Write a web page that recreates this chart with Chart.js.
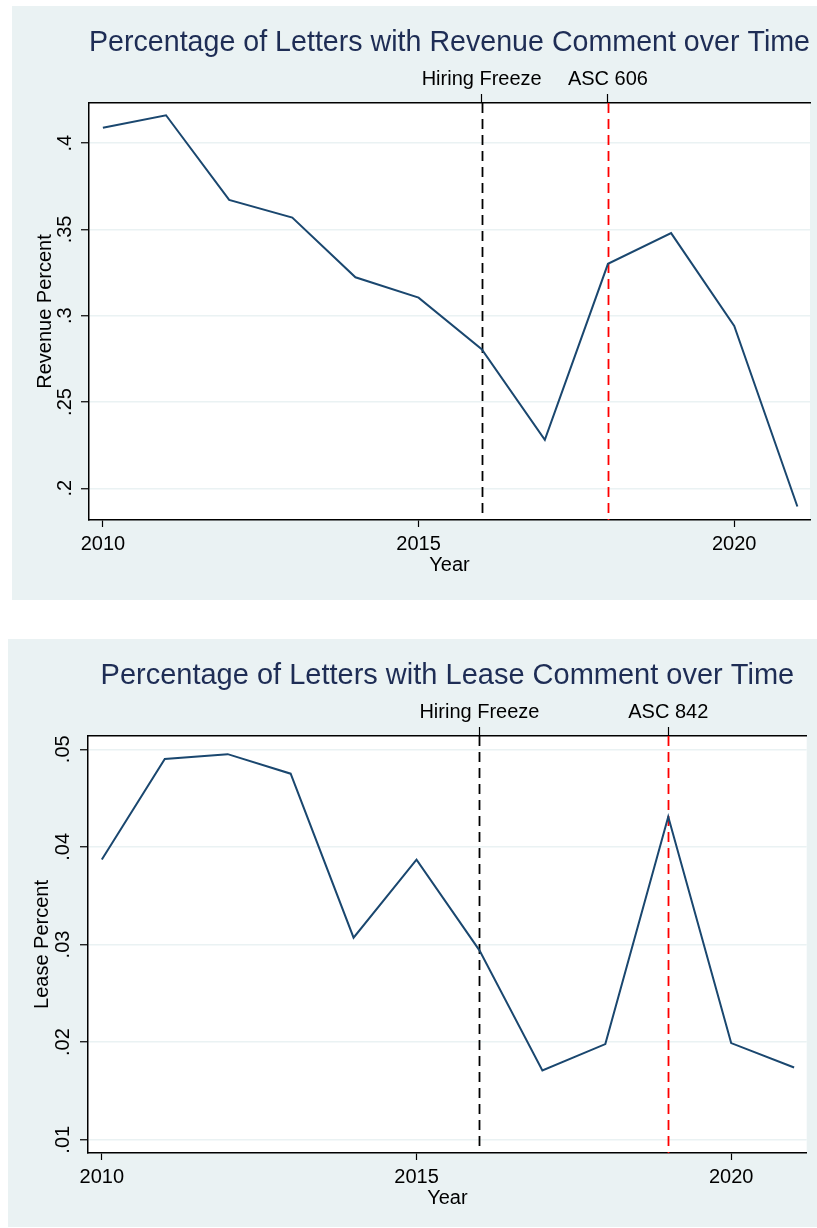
<!DOCTYPE html>
<html>
<head>
<meta charset="utf-8">
<script src="https://cdn.jsdelivr.net/npm/chart.js@4.4.0/dist/chart.umd.min.js"></script>
<style>
  body { margin: 0; background: #fff; }
  .panel { position: absolute; background: #eaf2f3; }
  #p1 { left: 12px; top: 6px; width: 805px; height: 594px; }
  #p2 { left: 8px; top: 639px; width: 809px; height: 588px; }
</style>
</head>
<body>
<div class="panel" id="p1"><canvas id="revenueChart"></canvas></div>
<div class="panel" id="p2"><canvas id="leaseChart"></canvas></div>
<script>
// data
const years = [2010, 2011, 2012, 2013, 2014, 2015, 2016, 2017, 2018, 2019, 2020, 2021];
const revenuePct = [0.409, 0.4162, 0.3671, 0.3569, 0.3223, 0.3105, 0.2806, 0.2281, 0.3301, 0.3479, 0.2941, 0.1894];
const leasePct = [0.0387, 0.0490, 0.0495, 0.0475, 0.0307, 0.0387, 0.0294, 0.0171, 0.0198, 0.0431, 0.0199, 0.0174];
const xTicks = [2010, 2015, 2020];
const revenueTicks = [0.2, 0.25, 0.3, 0.35, 0.4];
const leaseTicks = [0.01, 0.02, 0.03, 0.04, 0.05];
const revenueEvents = [2016, 2018];
const revenueEventLabels = ['Hiring Freeze', 'ASC 606'];
const leaseEvents = [2016, 2019];
const leaseEventLabels = ['Hiring Freeze', 'ASC 842'];
const eventColors = ['#000000', '#ff0000'];

const FONT = '"Liberation Sans", Arial, Helvetica, sans-serif';

// white plot region + dashed event lines
const plotBgPlugin = {
  id: 'plotBg',
  beforeDraw(chart) {
    const a = chart.chartArea, ctx = chart.ctx;
    ctx.save();
    ctx.fillStyle = '#ffffff';
    ctx.fillRect(a.left, a.top, a.right - a.left, a.bottom - a.top);
    ctx.restore();
  },
  beforeDatasetsDraw(chart, args, opts) {
    const a = chart.chartArea, ctx = chart.ctx, xs = chart.scales.x;
    ctx.save();
    ctx.lineWidth = 1.8;
    ctx.setLineDash([10, 6]);
    opts.events.forEach(function(v, i) {
      const px = Math.round(xs.getPixelForValue(v)) + 0.5;
      ctx.strokeStyle = eventColors[i];
      ctx.beginPath();
      ctx.moveTo(px, a.top);
      ctx.lineTo(px, a.bottom);
      ctx.stroke();
    });
    ctx.restore();
  }
};

function fmtDec(v) {
  return String(+v.toFixed(3)).replace(/^0\./, '.');
}

function makeChart(id, cfg) {
  const ctx = document.getElementById(id).getContext('2d');
  return new Chart(ctx, {
    type: 'line',
    data: {
      datasets: [{
        data: years.map(function(y, i) { return { x: y, y: cfg.values[i] }; }),
        borderColor: '#1a476f',
        borderWidth: 2,
        pointRadius: 0,
        tension: 0,
        fill: false
      }]
    },
    options: {
      responsive: true,
      maintainAspectRatio: false,
      animation: false,
      layout: { padding: { left: 0, right: cfg.padRight, top: 0, bottom: cfg.padBottom } },
      plugins: {
        legend: { display: false },
        tooltip: { enabled: false },
        title: {
          display: true,
          fullSize: false,
          text: cfg.title,
          color: '#1e2d55',
          font: { family: FONT, size: 29, weight: 'normal' },
          padding: { top: 20, bottom: 0 }
        },
        plotBg: { events: cfg.events }
      },
      scales: {
        x: {
          type: 'linear',
          position: 'bottom',
          min: 2009.78,
          max: 2021.2,
          afterBuildTicks: function(s) { s.ticks = xTicks.map(function(v) { return { value: v }; }); },
          afterFit: function(s) { s.height = 57; },
          grid: { drawOnChartArea: false, drawTicks: true, tickLength: 7, tickColor: '#000', tickWidth: 1.2 },
          border: { display: true, color: '#000', width: 1.5 },
          ticks: {
            color: '#000', padding: 5.5, maxRotation: 0,
            font: { family: FONT, size: 20 },
            callback: function(v) { return String(v); }
          },
          title: {
            display: true, text: 'Year', color: '#000',
            font: { family: FONT, size: 20 },
            padding: { top: 0, bottom: 0 }
          }
        },
        x2: {
          type: 'linear',
          position: 'top',
          min: 2009.78,
          max: 2021.2,
          afterBuildTicks: function(s) { s.ticks = cfg.events.map(function(v) { return { value: v }; }); },
          afterFit: function(s) { s.height = 42.2; },
          grid: { drawOnChartArea: false, drawTicks: true, tickLength: 9, tickColor: '#000', tickWidth: 1.2 },
          border: { display: true, color: '#000', width: 1.5 },
          ticks: {
            color: '#000', padding: 3, maxRotation: 0,
            font: { family: FONT, size: 20 },
            callback: function(v) {
              const i = cfg.events.indexOf(v);
              return i >= 0 ? cfg.eventLabels[i] : '';
            }
          }
        },
        y: {
          type: 'linear',
          position: 'left',
          min: cfg.yMin,
          max: cfg.yMax,
          afterBuildTicks: function(s) { s.ticks = cfg.yTicks.map(function(v) { return { value: v }; }); },
          afterFit: function(s) { s.width = cfg.yWidth; },
          grid: { color: '#eaf2f3', lineWidth: 1.5, drawTicks: true, tickLength: 8, tickColor: '#000', tickWidth: 1.2 },
          border: { display: true, color: '#000', width: 1.5 },
          ticks: {
            color: '#000', padding: cfg.yTickPad,
            minRotation: 90, maxRotation: 90, crossAlign: 'center',
            font: { family: FONT, size: 20 },
            callback: fmtDec
          },
          title: {
            display: true, text: cfg.yTitle, color: '#000',
            font: { family: FONT, size: 20 },
            padding: { top: cfg.yTitlePad, bottom: 0 }
          }
        }
      }
    },
    plugins: [plotBgPlugin]
  });
}

makeChart('revenueChart', {
  title: 'Percentage of Letters with Revenue Comment over Time',
  values: revenuePct,
  events: revenueEvents,
  eventLabels: revenueEventLabels,
  yTicks: revenueTicks,
  yMin: 0.1816, yMax: 0.4233,
  yTitle: 'Revenue Percent',
  yWidth: 77, yTickPad: 2, yTitlePad: 21.5,
  padRight: 7, padBottom: 23
});

makeChart('leaseChart', {
  title: 'Percentage of Letters with Lease Comment over Time',
  values: leasePct,
  events: leaseEvents,
  eventLabels: leaseEventLabels,
  yTicks: leaseTicks,
  yMin: 0.00864, yMax: 0.05136,
  yTitle: 'Lease Percent',
  yWidth: 80, yTickPad: 2.5, yTitlePad: 22.5,
  padRight: 10.3, padBottom: 17
});
</script>
</body>
</html>
